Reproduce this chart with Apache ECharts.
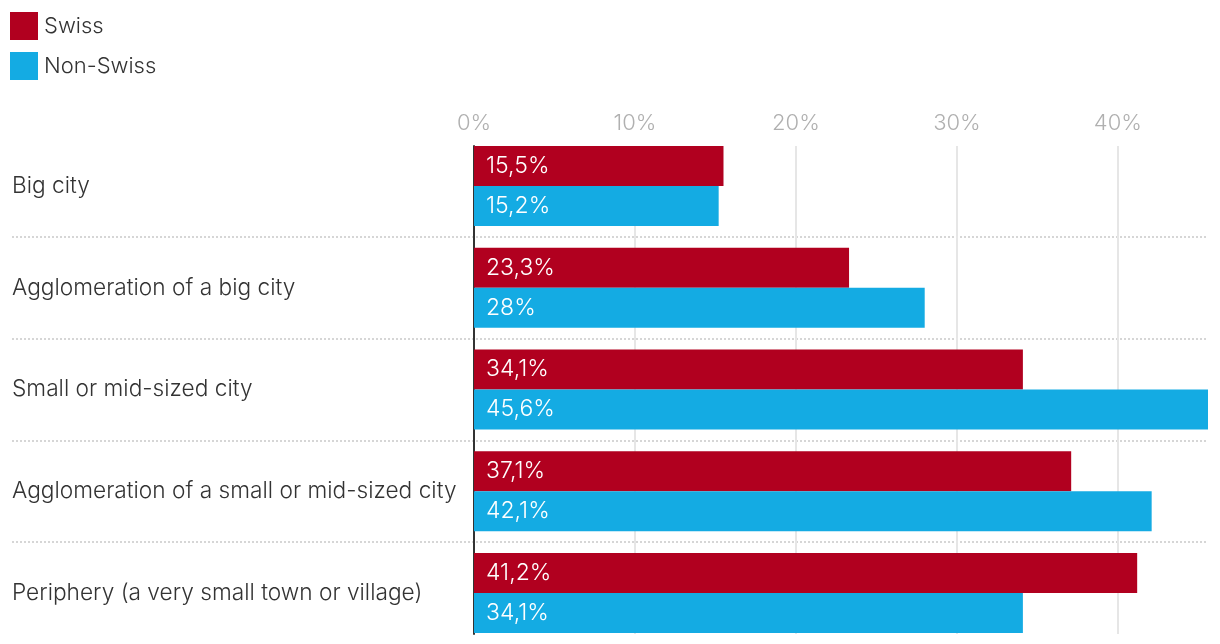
<!DOCTYPE html>
<html><head><meta charset="utf-8">
<script src="https://cdn.jsdelivr.net/npm/echarts@6/dist/echarts.min.js"></script>
<style>html,body{margin:0;padding:0;background:#fff}#c{width:1220px;height:644px}</style>
</head><body><div id="c"></div>
<script>
const categories = ['Big city','Agglomeration of a big city','Small or mid-sized city','Agglomeration of a small or mid-sized city','Periphery (a very small town or village)'];
const swiss = [15.5, 23.3, 34.1, 37.1, 41.2];
const nonSwiss = [15.2, 28, 45.6, 42.1, 34.1];
const seriesNames = ['Swiss','Non-Swiss'];
const tickValues = [0, 10, 20, 30, 40];
const xMax = 45.6;

const FONT = 'Inter';
const W = 300;
const fmt = v => String(v).replace('.', ',') + '%';
const chart = echarts.init(document.getElementById('c'));
chart.setOption({
  animation: false,
  textStyle: {fontFamily: FONT, fontWeight: W},
  legend: {
    orient: 'vertical', left: 10, top: 12, padding: 0, itemWidth: 28, itemHeight: 28, itemGap: 12,
    icon: 'rect', data: seriesNames,
    textStyle: {fontSize: 22, color: '#333', fontFamily: FONT, fontWeight: W, padding: [0,0,0,1]}
  },
  grid: [
    {left: 474, right: 12, top: 135, height: 510},
    {left: 474, right: 12, top: 146, bottom: 10},
    {left: 12, right: 12, top: 135, height: 510}
  ],
  xAxis: [
    {gridIndex: 0, type: 'value', min: 0, max: xMax, show: false},
    {gridIndex: 1, type: 'value', min: 0, max: xMax, interval: 10, position: 'top',
      axisLine: {show: false}, axisTick: {show: false},
      axisLabel: {margin: 12, fontSize: 22, color: '#b0b0b0', fontFamily: FONT, fontWeight: W,
        formatter: v => tickValues.includes(v) ? v + '%' : ''},
      splitLine: {show: true, showMaxLine: false, lineStyle: {color: '#e6e6e6', width: 2}}},
    {gridIndex: 2, type: 'value', min: 0, max: 1, show: false}
  ],
  yAxis: [
    {gridIndex: 0, type: 'category', data: categories, inverse: true,
      axisLine: {show: false}, axisTick: {show: false}, splitLine: {show: false},
      axisLabel: {align: 'left', margin: 462, fontSize: 22.7, color: '#333', fontFamily: FONT, fontWeight: W}},
    {gridIndex: 1, type: 'value', min: 0, max: 1, axisLabel: {show: false}, axisTick: {show: false},
      splitLine: {show: false}, axisLine: {show: true, lineStyle: {color: '#333', width: 2}}},
    {gridIndex: 2, type: 'value', min: 0, max: 5, interval: 1, inverse: true,
      axisLabel: {show: false}, axisTick: {show: false}, axisLine: {show: false},
      splitLine: {show: true, showMinLine: false, showMaxLine: false,
        lineStyle: {color: '#d6d6d6', width: 2, type: [2, 2]}}}
  ],
  series: [
    {name: seriesNames[0], type: 'bar', xAxisIndex: 0, yAxisIndex: 0, data: swiss,
      barWidth: 40, barGap: '0%', itemStyle: {color: '#b1001f'},
      label: {show: true, position: 'insideLeft', distance: 12, color: '#fff', fontSize: 23, fontFamily: FONT, fontWeight: W,
        formatter: p => fmt(p.value)}},
    {name: seriesNames[1], type: 'bar', xAxisIndex: 0, yAxisIndex: 0, data: nonSwiss,
      barWidth: 40, barGap: '0%', itemStyle: {color: '#14abe3'},
      label: {show: true, position: 'insideLeft', distance: 12, color: '#fff', fontSize: 23, fontFamily: FONT, fontWeight: W,
        formatter: p => fmt(p.value)}}
  ]
});
</script></body></html>
